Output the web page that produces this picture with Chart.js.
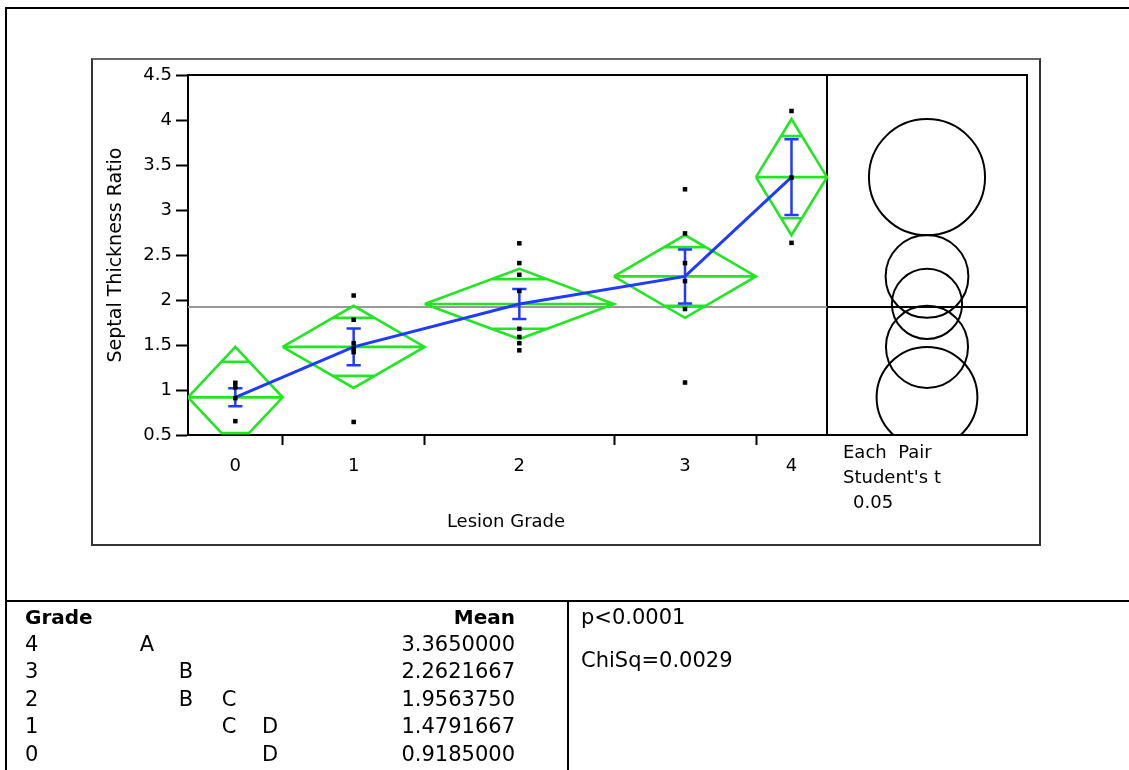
<!DOCTYPE html>
<html>
<head>
<meta charset="utf-8">
<script src="https://cdn.jsdelivr.net/npm/chart.js@4.4.1/dist/chart.umd.min.js"></script>
<style>
  body { margin: 0; width: 1129px; height: 770px; overflow: hidden; background: #fff; position: relative;
         font-family: 'DejaVu Sans', sans-serif; color: #000; }
  .ln { position: absolute; background: #000; }
  .t { position: absolute; white-space: pre; font-size: 18px; line-height: 20px; }
  .tb { position: absolute; white-space: pre; font-size: 21px; line-height: 24px; }
  canvas { position: absolute; left: 0; top: 0; }
</style>
</head>
<body>
<div class="ln" style="left:5px;top:7px;width:1124px;height:2px"></div>
<div class="ln" style="left:5px;top:7px;width:2px;height:763px"></div>
<div style="position:absolute;left:91px;top:58px;width:946px;height:484px;border:2px solid #333;border-top-color:#666"></div>
<div class="ln" style="left:5px;top:600px;width:1124px;height:2px"></div>
<div class="ln" style="left:567px;top:600px;width:2px;height:170px"></div>

<canvas id="chart" width="1129" height="770"></canvas>

<div class="t" style="left:406px;top:511px;width:200px;text-align:center">Lesion Grade</div>
<div class="t" style="left:843px;top:442px">Each  Pair</div>
<div class="t" style="left:843px;top:467px">Student's t</div>
<div class="t" style="left:853px;top:492px">0.05</div>
<div id="table"></div>

<script>
// groups (x axis), widths follow the group sizes
const grades = ['0', '1', '2', '3', '4'];
const counts = [4, 6, 8, 6, 3];
const means = [0.9185, 1.4791667, 1.956375, 2.2621667, 3.365];
const ciHalf = [0.56, 0.456, 0.39, 0.46, 0.645];   // 95% diamond half height
const stdErr = [0.1, 0.205, 0.167, 0.30, 0.42];    // blue error bars

const obs0 = [1.08, 1.03, 0.91, 0.654];
const obs1 = [2.05, 1.78, 1.52, 1.46, 1.42, 0.645];
const obs2 = [2.63, 2.41, 2.28, 2.10, 1.68, 1.59, 1.52, 1.441];
const obs3 = [3.23, 2.74, 2.41, 2.21, 1.90, 1.083];
const obs4 = [4.10, 3.36, 2.635];
const obs = [obs0, obs1, obs2, obs3, obs4];

const yMin = 0.5, yMax = 4.5, yStep = 0.5;

// connecting letters report
const tableGrades = ['4', '3', '2', '1', '0'];
const tableLetters = [['A'], ['B'], ['B', 'C'], ['C', 'D'], ['D']];
const tableMeans = ['3.3650000', '2.2621667', '1.9563750', '1.4791667', '0.9185000'];
const tableNotes = ['p<0.0001', 'ChiSq=0.0029'];

const green = '#22e622';
const blue = '#1f3bff';

const total = counts.reduce((a, b) => a + b, 0);
const starts = [];
let acc = 0;
counts.forEach(n => { starts.push(acc); acc += n; });
const centers = counts.map((n, i) => starts[i] + n / 2);
const bounds = starts.slice(1);
const grandMean = means.reduce((s, m, i) => s + m * counts[i], 0) / total;
const xMax = total * 839 / 639;          // extra room on the right for the circles
const panelMid = (total + xMax) / 2;
const cap = 0.3;
const floorY = yMin + 0.02;              // diamonds get cut flat at the axis
const gap = x => ({ x: x, y: null });

const pointData = [];
obs.forEach((vals, i) => vals.forEach(v => pointData.push({ x: centers[i], y: v })));

const diamondData = [];
counts.forEach((n, i) => {
  const m = means[i], c = centers[i], h = ciHalf[i];
  const l = starts[i], r = starts[i] + n;
  const k = (n / 2) * (1 - Math.SQRT1_2), o = h * Math.SQRT1_2;
  let bottom = [{ x: c, y: m - h }];
  if (m - h < floorY) {
    const hw = (n / 2) * (1 - (m - floorY) / h);
    bottom = [{ x: c + hw, y: floorY }, { x: c - hw, y: floorY }];
  }
  diamondData.push({ x: l, y: m }, { x: c, y: m + h }, { x: r, y: m }, ...bottom, { x: l, y: m }, gap(c));
  diamondData.push({ x: l, y: m }, { x: r, y: m }, gap(c));
  diamondData.push({ x: c - k, y: m + o }, { x: c + k, y: m + o }, gap(c));
  diamondData.push({ x: c - k, y: m - o }, { x: c + k, y: m - o }, gap(c));
});

const errData = [];
centers.forEach((c, i) => {
  const lo = means[i] - stdErr[i], hi = means[i] + stdErr[i];
  errData.push({ x: c, y: lo }, { x: c, y: hi }, gap(c));
  errData.push({ x: c - cap, y: hi }, { x: c + cap, y: hi }, gap(c));
  errData.push({ x: c - cap, y: lo }, { x: c + cap, y: lo }, gap(c));
});

const lineDs = (data, color, width) => ({
  data: data, showLine: true, borderColor: color, borderWidth: width,
  pointRadius: 0, spanGaps: false, fill: false
});

const framePlugin = {
  id: 'frame',
  afterDatasetsDraw(chart) {
    const { ctx, chartArea: a } = chart;
    ctx.save();
    ctx.strokeStyle = '#000';
    ctx.lineWidth = 2;
    ctx.beginPath();
    ctx.moveTo(a.left, a.top);
    ctx.lineTo(a.right, a.top);
    ctx.lineTo(a.right, a.bottom);
    ctx.stroke();
    ctx.restore();
  }
};

Chart.defaults.font.family = "'DejaVu Sans', sans-serif";
Chart.defaults.font.size = 18;
Chart.defaults.color = '#000';

new Chart(document.getElementById('chart'), {
  type: 'scatter',
  data: {
    datasets: [
      { data: pointData, pointStyle: 'rect', pointRadius: 3.2, backgroundColor: '#000', borderWidth: 0 },
      lineDs(centers.map((c, i) => ({ x: c, y: means[i] })), blue, 3),
      lineDs(errData, blue, 2.5),
      lineDs(diamondData, green, 2.6),
      lineDs([{ x: 0, y: grandMean }, { x: total, y: grandMean }], '#999', 2),
      lineDs([{ x: total, y: grandMean }, { x: xMax, y: grandMean }], '#000', 2),
      lineDs([{ x: total, y: yMin }, { x: total, y: yMax }], '#000', 2),
      {
        data: means.map(m => ({ x: panelMid, y: m })),
        pointStyle: 'circle', backgroundColor: 'rgba(0,0,0,0)', borderColor: '#000', borderWidth: 2,
        pointRadius: ctx => {
          const y = ctx.chart.scales.y;
          return Math.abs(y.getPixelForValue(0) - y.getPixelForValue(ciHalf[ctx.dataIndex]));
        },
        clip: 1
      }
    ]
  },
  options: {
    responsive: false,
    animation: false,
    devicePixelRatio: 1,
    layout: { padding: { left: 101, right: 102, top: 75, bottom: 275 } },
    plugins: { legend: { display: false }, tooltip: { enabled: false } },
    events: [],
    scales: {
      x: {
        type: 'linear', min: 0, max: xMax,
        afterBuildTicks: s => { s.ticks = bounds.concat(centers).sort((a, b) => a - b).map(v => ({ value: v })); },
        afterFit: s => { s.height = 60; },
        ticks: {
          autoSkip: false, maxRotation: 0, padding: 11,
          callback: v => { const i = centers.findIndex(c => Math.abs(c - v) < 1e-6); return i < 0 ? '' : grades[i]; }
        },
        grid: {
          drawOnChartArea: false, drawTicks: true, tickLength: 10, tickWidth: 2,
          tickColor: ctx => (ctx.tick && bounds.some(b => Math.abs(b - ctx.tick.value) < 1e-6)) ? '#000' : 'rgba(0,0,0,0)'
        },
        border: { display: true, color: '#000', width: 2 }
      },
      y: {
        min: yMin, max: yMax,
        afterFit: s => { s.width = 87; },
        ticks: { stepSize: yStep, padding: 4, callback: v => String(v) },
        grid: { drawOnChartArea: false, drawTicks: true, tickLength: 12, tickWidth: 2, tickColor: '#000' },
        border: { display: true, color: '#000', width: 2 },
        title: { display: true, text: 'Septal Thickness Ratio', font: { size: 19 }, padding: { top: 4, bottom: 4 } }
      }
    }
  },
  plugins: [framePlugin]
});

// report under the chart
const letterX = { A: 147, B: 186, C: 229, D: 270 };
const rowY = [617, 644, 671, 699, 726, 754];
const tbl = document.getElementById('table');
function addText(txt, style, bold) {
  const d = document.createElement('div');
  d.className = 'tb';
  d.textContent = txt;
  Object.assign(d.style, style);
  if (bold) d.style.fontWeight = 'bold';
  tbl.appendChild(d);
  return d;
}
addText('Grade', { left: '25px', top: (rowY[0] - 12) + 'px', fontSize: '20px' }, true);
addText('Mean', { right: (1129 - 515) + 'px', top: (rowY[0] - 12) + 'px', fontSize: '20px' }, true);
tableGrades.forEach((g, i) => {
  const y = (rowY[i + 1] - 12) + 'px';
  addText(g, { left: '25px', top: y });
  tableLetters[i].forEach(l => addText(l, { left: (letterX[l] - 8) + 'px', top: y, width: '16px', textAlign: 'center' }));
  addText(tableMeans[i], { right: (1129 - 515) + 'px', top: y });
});
addText(tableNotes[0], { left: '581px', top: (617 - 12) + 'px' });
addText(tableNotes[1], { left: '581px', top: (660 - 12) + 'px' });
</script>
</body>
</html>
